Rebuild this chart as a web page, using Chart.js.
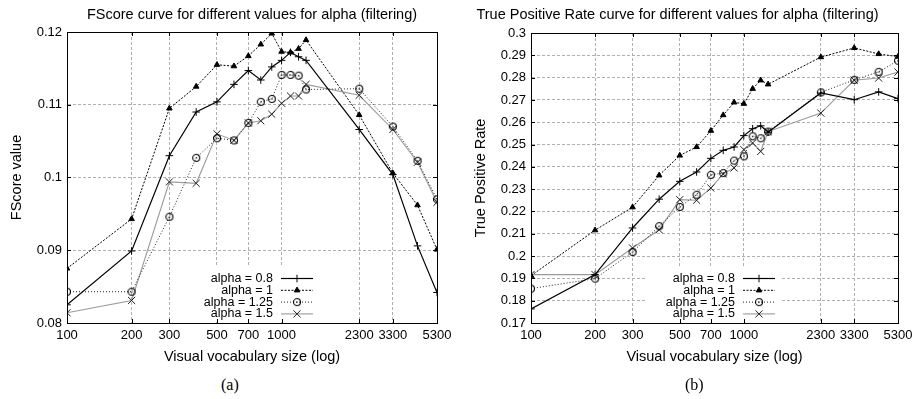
<!DOCTYPE html>
<html>
<head>
<meta charset="utf-8">
<script src="https://cdn.jsdelivr.net/npm/chart.js@4.4.1/dist/chart.umd.min.js"></script>
<style>
html, body { margin: 0; padding: 0; background: #fff; }
body { width: 914px; height: 399px; position: relative; overflow: hidden; }
.wrap { position: absolute; top: 0; height: 372px; }
#wrap-a { left: 0; width: 460px; }
#wrap-b { left: 457px; width: 512px; }
.cap { position: absolute; top: 377px; line-height: 16px; font-family: "Liberation Serif", "Times New Roman", serif; font-size: 16px; color: #000; }
</style>
</head>
<body>
<div class="wrap" id="wrap-a"><canvas id="chart-a"></canvas></div>
<div class="wrap" id="wrap-b"><canvas id="chart-b"></canvas></div>
<div class="cap" style="left:221px">(a)</div>
<div class="cap" style="left:685px">(b)</div>
<script>
// ---- data ----
const vocabSizes = [100, 200, 300, 400, 500, 600, 700, 800, 900, 1000, 1100, 1200, 1300, 2300, 3300, 4300, 5300];
const xTickValues = [100, 200, 300, 500, 700, 1000, 2300, 3300, 5300];
const fscoreTicks = [0.08, 0.09, 0.1, 0.11, 0.12];
const tprTicks = [0.17, 0.18, 0.19, 0.2, 0.21, 0.22, 0.23, 0.24, 0.25, 0.26, 0.27, 0.28, 0.29, 0.3];
const alphaLabels = ['alpha = 0.8', 'alpha = 1', 'alpha = 1.25', 'alpha = 1.5'];

// (a) FScore
const fscoreA08 = [0.0825, 0.0899, 0.1030, 0.1090, 0.1104, 0.1128, 0.1147, 0.1134, 0.1152, 0.1161, 0.1172, 0.1166, 0.1161, 0.1066, 0.1004, 0.0906, 0.0842];
const fscoreA1 = [0.0875, 0.0943, 0.1095, 0.1125, 0.1155, 0.1153, 0.1167, 0.1183, 0.1198, 0.1173, 0.1172, 0.1177, 0.1189, 0.1086, 0.1006, 0.0962, 0.0901];
const fscoreA125 = [0.0843, 0.0843, 0.0946, 0.1027, 0.1054, 0.1051, 0.1075, 0.1104, 0.1108, 0.1141, 0.1141, 0.1140, 0.1121, 0.1122, 0.1070, 0.1023, 0.0970];
const fscoreA15 = [0.0814, 0.0831, 0.0994, 0.0992, 0.1060, 0.1051, 0.1075, 0.1078, 0.1087, 0.1102, 0.1112, 0.1112, 0.1128, 0.1113, 0.1066, 0.1021, 0.0966];

// (b) True positive rate
const tprA08 = [0.1763, 0.1917, 0.2126, 0.2255, 0.2335, 0.2377, 0.2438, 0.2474, 0.2489, 0.2540, 0.2571, 0.2584, 0.2555, 0.2731, 0.2701, 0.2736, 0.2706];
const tprA1 = [0.1912, 0.2116, 0.2219, 0.2362, 0.2451, 0.2489, 0.2562, 0.2632, 0.2689, 0.2683, 0.2750, 0.2788, 0.2770, 0.2892, 0.2933, 0.2906, 0.2894];
const tprA125 = [0.1854, 0.1899, 0.2018, 0.2134, 0.2220, 0.2275, 0.2364, 0.2372, 0.2428, 0.2447, 0.2537, 0.2528, 0.2558, 0.2734, 0.2790, 0.2826, 0.2876];
const tprA15 = [0.1917, 0.1917, 0.2036, 0.2118, 0.2253, 0.2250, 0.2305, 0.2368, 0.2395, 0.2477, 0.2507, 0.2469, 0.2558, 0.2641, 0.2788, 0.2798, 0.2825];

// ---- styles ----
Chart.defaults.font.family = '"Liberation Sans", Arial, Helvetica, sans-serif';
Chart.defaults.font.size = 13;
Chart.defaults.color = '#000';

// open circle with a dot in the middle (gnuplot style)
function ringDot() {
    const c = document.createElement('canvas');
    c.width = 10; c.height = 10;
    const g = c.getContext('2d');
    g.strokeStyle = '#000'; g.lineWidth = 1.1;
    g.beginPath(); g.arc(5, 5, 3.5, 0, Math.PI * 2); g.stroke();
    g.fillStyle = '#000'; g.fillRect(4.5, 4.5, 1.2, 1.2);
    return c;
}
const ring = ringDot();

const seriesStyles = [
    { borderColor: '#000', borderWidth: 1.2, borderDash: [], pointStyle: 'cross', pointRadius: 3.8,
        pointBorderColor: '#000', pointBackgroundColor: '#000', pointBorderWidth: 1 },
    { borderColor: '#000', borderWidth: 1, borderDash: [2, 1.5], pointStyle: 'triangle', pointRadius: 3.2,
        pointBorderColor: '#000', pointBackgroundColor: '#000', pointBorderWidth: 1 },
    { borderColor: '#222', borderWidth: 1, borderDash: [1, 2], pointStyle: ring, pointRadius: 5,
        pointBorderColor: '#000', pointBackgroundColor: '#000', pointBorderWidth: 1 },
    { borderColor: '#9a9a9a', borderWidth: 1.1, borderDash: [], pointStyle: 'crossRot', pointRadius: 5,
        pointBorderColor: '#222', pointBackgroundColor: '#222', pointBorderWidth: 1 },
];

// frame around the plot + inward tick marks on all four sides
const frameTicks = {
    id: 'frameTicks',
    afterDraw(chart) {
        const { ctx, chartArea: a, scales } = chart;
        ctx.save();
        ctx.strokeStyle = '#000';
        ctx.lineWidth = 1;
        ctx.setLineDash([]);
        ctx.beginPath();
        for (const v of xTickValues) {
            const px = Math.round(scales.x.getPixelForValue(v)) + 0.5;
            ctx.moveTo(px, a.bottom); ctx.lineTo(px, a.bottom - 4);
            ctx.moveTo(px, a.top); ctx.lineTo(px, a.top + 4);
        }
        for (const t of scales.y.ticks) {
            const py = Math.round(scales.y.getPixelForValue(t.value)) + 0.5;
            ctx.moveTo(a.left, py); ctx.lineTo(a.left + 4, py);
            ctx.moveTo(a.right, py); ctx.lineTo(a.right - 4, py);
        }
        ctx.stroke();
        ctx.strokeRect(Math.round(a.left) + 0.5, Math.round(a.top) + 0.5,
            Math.round(a.right - a.left), Math.round(a.bottom - a.top));
        ctx.restore();
    }
};

// key drawn inside the plot with a white box behind it
const innerKey = {
    id: 'innerKey',
    afterDatasetsDraw(chart, args, opts) {
        const ctx = chart.ctx;
        ctx.save();
        ctx.fillStyle = '#fff';
        ctx.fillRect(opts.box[0], opts.box[1], opts.box[2] - opts.box[0], opts.box[3] - opts.box[1]);
        ctx.font = '12.5px "Liberation Sans", Arial, sans-serif';
        ctx.textAlign = 'right';
        ctx.textBaseline = 'middle';
        chart.data.datasets.forEach((ds, i) => {
            const y = opts.y + i * opts.rowH;
            ctx.fillStyle = '#000';
            ctx.fillText(ds.label, opts.textX, y);
            ctx.strokeStyle = ds.borderColor;
            ctx.lineWidth = ds.borderWidth;
            ctx.setLineDash(ds.borderDash);
            ctx.beginPath();
            ctx.moveTo(opts.x0, y); ctx.lineTo(opts.x1, y);
            ctx.stroke();
            ctx.setLineDash([]);
            if (Chart.helpers && Chart.helpers.drawPoint) {
                ctx.strokeStyle = ds.pointBorderColor;
                ctx.fillStyle = ds.pointBackgroundColor;
                ctx.lineWidth = ds.pointBorderWidth;
                Chart.helpers.drawPoint(ctx, { pointStyle: ds.pointStyle, radius: ds.pointRadius,
                    rotation: 0, borderWidth: ds.pointBorderWidth }, (opts.x0 + opts.x1) / 2, y);
            }
        });
        ctx.restore();
    }
};

function buildChart(canvasId, cfg) {
    return new Chart(document.getElementById(canvasId), {
        type: 'line',
        data: {
            datasets: cfg.series.map((vals, i) => Object.assign({
                label: alphaLabels[i],
                data: vocabSizes.map((v, j) => ({ x: v, y: vals[j] })),
                fill: false, tension: 0,
            }, seriesStyles[i])),
        },
        options: {
            responsive: true,
            maintainAspectRatio: false,
            animation: false,
            layout: { padding: { left: 0, right: cfg.padRight, top: 0, bottom: 0 } },
            plugins: {
                legend: { display: false },
                tooltip: { enabled: false },
                title: { display: true, text: cfg.title, fullSize: cfg.titleFull, color: '#000',
                    font: { size: 14.5, weight: 'normal' }, padding: { top: 6.3, bottom: cfg.titleGap } },
                innerKey: cfg.key,
            },
            scales: {
                x: {
                    type: 'logarithmic', min: 100, max: 5300,
                    afterBuildTicks: s => { s.ticks = xTickValues.map(v => ({ value: v })); },
                    afterFit: s => { s.height = 49; },
                    ticks: { autoSkip: false, maxRotation: 0, padding: 5, callback: v => String(v) },
                    grid: { color: '#b0b0b0', drawTicks: false },
                    border: { color: '#000', dash: [3, 2] },
                    title: { display: true, text: 'Visual vocabulary size (log)', font: { size: 14.5 },
                        padding: { top: 0, bottom: 6.3 } },
                },
                y: {
                    min: cfg.yTicks[0], max: cfg.yTicks[cfg.yTicks.length - 1],
                    afterBuildTicks: s => { s.ticks = cfg.yTicks.map(v => ({ value: v })); },
                    afterFit: s => { s.width = cfg.yWidth; },
                    ticks: { padding: 5, callback: v => String(+Number(v).toFixed(2)) },
                    grid: { color: '#b0b0b0', drawTicks: false },
                    border: { color: '#000', dash: [3, 2] },
                    title: { display: true, text: cfg.yTitle, font: { size: 14.5 },
                        padding: { top: cfg.yTitlePad, bottom: 0 } },
                },
            },
        },
        plugins: [frameTicks, innerKey],
    });
}

buildChart('chart-a', {
    title: 'FScore curve for different values for alpha (filtering)',
    yTitle: 'FScore value',
    yTicks: fscoreTicks,
    series: [fscoreA08, fscoreA1, fscoreA125, fscoreA15],
    yWidth: 67, yTitlePad: 8.3, padRight: 23, titleGap: 8.3, titleFull: false,
    key: { box: [185, 266, 320, 321], textX: 273, x0: 281, x1: 313, y: 278.5, rowH: 11.8 },
});

buildChart('chart-b', {
    title: 'True Positive Rate curve for different values for alpha (filtering)',
    yTitle: 'True Positive Rate',
    yTicks: tprTicks,
    series: [tprA08, tprA1, tprA125, tprA15],
    yWidth: 74, yTitlePad: 15.3, padRight: 71, titleGap: 9.3, titleFull: true,
    key: { box: [190, 266, 325, 321], textX: 278, x0: 286, x1: 318, y: 278.5, rowH: 11.8 },
});
</script>
</body>
</html>
